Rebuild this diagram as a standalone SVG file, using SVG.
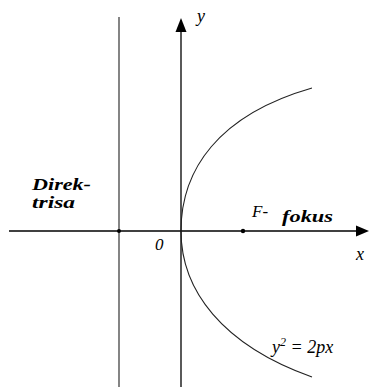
<svg xmlns="http://www.w3.org/2000/svg" width="369" height="387" viewBox="0 0 369 387">
<style>
text{font-family:'Liberation Serif','Times New Roman','DejaVu Serif',serif;font-style:italic;fill:#000}
.b{font-weight:bold}
.ax{stroke:#000;stroke-width:1.3;fill:none}
.dir{stroke:#333;stroke-width:1.2;fill:none}
.cur{stroke:#222;stroke-width:1.1;fill:none}
.dot{fill:#000}
</style>
<rect width="369" height="387" fill="#fff"/>
<g id="connectors">
<line class="dir" x1="119" y1="17" x2="119" y2="387"/>
<line class="ax" x1="181" y1="387" x2="181" y2="30"/>
<polygon points="181,18 175.5,32 186.5,32" fill="#000"/>
<line class="ax" x1="9" y1="231" x2="358" y2="231"/>
<polygon points="369,231 356,225.5 356,236.5" fill="#000"/>
</g>
<g id="parabola">
<path class="cur" d="M312,88 C218,115 181,170 181,231 C181,290 222,345 312,377"/>
</g>
<g id="directrix-point"><circle class="dot" cx="119" cy="231" r="2"/></g>
<g id="focus"><circle class="dot" cx="243" cy="231" r="2.2"/>
<text x="252" y="217" font-size="17">F-</text>
<text class="b" x="282" y="222" font-size="17" textLength="51" lengthAdjust="spacingAndGlyphs">fokus</text>
</g>
<g id="directrix-label">
<text class="b" x="32" y="190" font-size="17" textLength="59" lengthAdjust="spacingAndGlyphs">Direk-</text>
<text class="b" x="32" y="208" font-size="17" textLength="43" lengthAdjust="spacingAndGlyphs">trisa</text>
</g>
<g id="labels">
<text x="197" y="22" font-size="18">y</text>
<text x="356" y="260" font-size="18">x</text>
<text x="155" y="250" font-size="17">0</text>
<text x="272" y="353" font-size="18">y<tspan font-size="12" dy="-7">2</tspan><tspan dy="7"> = 2px</tspan></text>
</g>
</svg>
